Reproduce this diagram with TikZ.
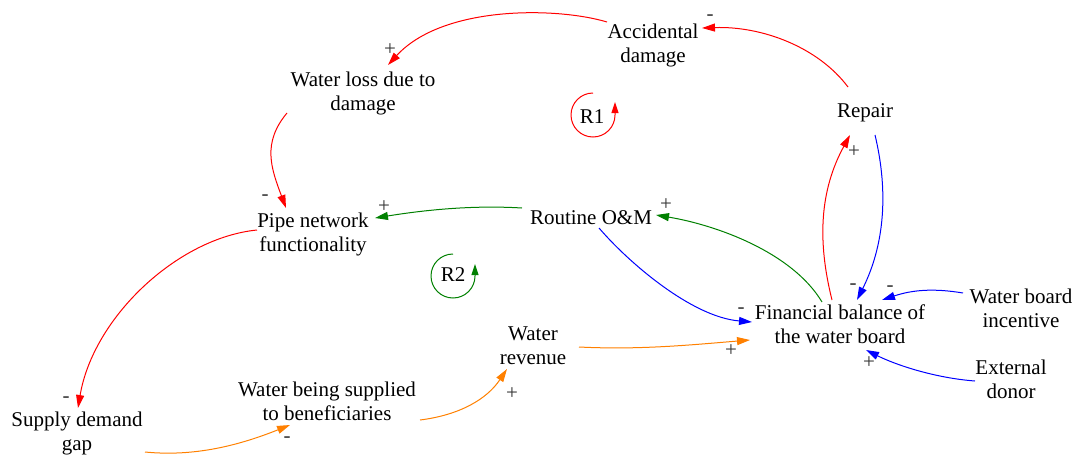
\documentclass[tikz,border=0pt]{standalone}
\usepackage{fontspec}
\setmainfont{Liberation Serif}
\usetikzlibrary{arrows.meta,calc}
\definecolor{vred}{RGB}{255,0,0}
\definecolor{vblue}{RGB}{0,0,255}
\definecolor{vgreen}{RGB}{0,128,0}
\definecolor{vorange}{RGB}{255,128,0}
\begin{document}
\begin{tikzpicture}[x=0.5pt,y=-0.5pt,
  var/.style={align=center,inner sep=0pt,font=\fontsize{10.5}{12}\selectfont},
  sgn/.style={inner sep=0pt,font=\fontsize{10.5}{12}\selectfont,text=black!80},
  lnk/.style={line width=0.5pt,-{Triangle[length=6.5pt,width=4pt]}},
  loopar/.style={line width=0.5pt,-{Triangle[length=5.5pt,width=3.5pt]}}]
\useasboundingbox (0,0) rectangle (1076,455);
% variables
\node[var] (acc) at (653,45) {Accidental\\damage};
\node[var] (wl) at (363,93) {Water loss due to\\damage};
\node[var] (rep) at (865,113) {Repair};
\node[var] (pipe) at (313,234) {Pipe network\\functionality};
\node[var] (rom) at (591,218) {Routine O\&M};
\node[var] (fin) at (840,324) {Financial balance of\\the water board};
\node[var] (wbi) at (1021,308) {Water board\\incentive};
\node[var] (ext) at (1011,379) {External\\donor};
\node[var] (wr) at (533,346) {Water\\revenue};
\node[var] (wbs) at (327,401) {Water being supplied\\to beneficiaries};
\node[var] (sdg) at (77,433) {Supply demand\\gap};
% loop labels
\node[var] (r1) at (592,117) {R1};
\node[var] (r2) at (453,275) {R2};
\draw[loopar,vred] ($(r1)+(1,-24)$) arc[start angle=90,end angle=360,radius=11pt] -- ++(0,-13);
\draw[loopar,vgreen] ($(r2)+(0,-21)$) arc[start angle=90,end angle=360,radius=11pt] -- ++(0,-12);
% links
\draw[lnk,vred] ($(rep)+(-17,-26)$) .. controls +(-30,-40) and +(60,-2) .. ($(acc)+(49,-17)$);
\draw[lnk,vred] ($(acc)+(-46,-23)$) .. controls +(-50,-15) and +(55,-60) .. ($(wl)+(25,-28)$);
\draw[lnk,vred] ($(wl)+(-76,20)$) .. controls +(-25,30) and +(-15,-40) .. ($(pipe)+(-27,-26)$);
\draw[lnk,vgreen] ($(rom)+(-69,-10)$) .. controls +(-50,-3) and +(50,-8) .. ($(pipe)+(62,-16)$);
\draw[lnk,vgreen] ($(fin)+(-18,-22)$) .. controls +(-30,-50) and +(60,10) .. ($(rom)+(65,-3)$);
\draw[lnk,vblue] ($(rom)+(8,10)$) .. controls +(30,35) and +(-60,-5) .. ($(fin)+(-88,-2)$);
\draw[lnk,vred] ($(fin)+(-8,-24)$) .. controls +(-15,-60) and +(-30,55) .. ($(rep)+(-15,22)$);
\draw[lnk,vblue] ($(rep)+(10,22)$) .. controls +(12,50) and +(30,-60) .. ($(fin)+(17,-24)$);
\draw[lnk,vblue] ($(wbi)+(-58,-15)$) .. controls +(-30,-5) and +(30,-10) .. ($(fin)+(42,-24)$);
\draw[lnk,vblue] ($(ext)+(-36,2)$) .. controls +(-40,-3) and +(30,15) .. ($(fin)+(26,26)$);
\draw[lnk,vorange] ($(wr)+(46,1)$) .. controls +(60,3) and +(-60,5) .. ($(fin)+(-90,16)$);
\draw[lnk,vred] ($(pipe)+(-56,-4)$) .. controls +(-80,8) and +(15,-90) .. ($(sdg)+(1,-25)$);
\draw[lnk,vorange] ($(sdg)+(68,19)$) .. controls +(50,5) and +(-50,20) .. ($(wbs)+(-37,24)$);
\draw[lnk,vorange] ($(wbs)+(93,19)$) .. controls +(40,-5) and +(-20,30) .. ($(wr)+(-26,23)$);
% polarity signs
\node[sgn] (s1) at (710,18) {-};
\node[sgn] (s2) at (390,50) {+};
\node[sgn] (s3) at (265,198) {-};
\node[sgn] (s4) at (384,207) {+};
\node[sgn] (s5) at (666,205) {+};
\node[sgn] (s6) at (741,311) {-};
\node[sgn] (s7) at (854,152) {+};
\node[sgn] (s8) at (853,287) {-};
\node[sgn] (s9) at (890,289) {-};
\node[sgn] (s10) at (869,363) {+};
\node[sgn] (s11) at (731,351) {+};
\node[sgn] (s12) at (66,400) {-};
\node[sgn] (s13) at (287,440) {-};
\node[sgn] (s14) at (512,394) {+};
\end{tikzpicture}
\end{document}
